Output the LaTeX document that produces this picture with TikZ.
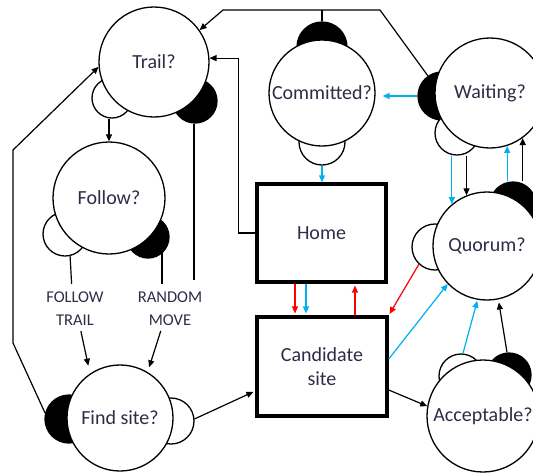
\documentclass[tikz,border=0pt]{standalone}
\usepackage{fontspec}
\setmainfont{Carlito}
\usetikzlibrary{arrows.meta,calc}
\definecolor{tx}{RGB}{45,45,70}
\definecolor{cyanb}{RGB}{0,176,240}
\definecolor{redr}{RGB}{255,0,0}
\begin{document}
\begin{tikzpicture}[x=1pt,y=-1pt,
  big/.style={circle,draw,fill=white,line width=1.3pt,inner sep=0pt,minimum size=#1pt,font=\fontsize{20}{24}\selectfont,text=tx},
  dotw/.style={circle,draw,fill=white,line width=1.3pt,inner sep=0pt,minimum size=#1pt},
  dotb/.style={circle,draw,fill=black,line width=1.3pt,inner sep=0pt,minimum size=#1pt},
  box/.style={rectangle,draw,fill=white,line width=3.5pt,inner sep=0pt,font=\fontsize{20}{24}\selectfont,text=tx,align=center},
  conn/.style={line width=1.2pt},
  arr/.style={conn,-{Triangle[length=7pt,width=6pt]}},
  barr/.style={arr,draw=cyanb,fill=cyanb},
  rarr/.style={arr,draw=redr,fill=redr},
  lab/.style={font=\fontsize{16.5}{23}\selectfont,text=tx,align=center,inner sep=1pt}]
\useasboundingbox (0,0) rectangle (533,472);
% small circles (behind)
\node[dotw=40] (trailW) at (112,98) {};
\node[dotb=44] (trailB) at (195,101) {};
\node[dotb=50] (comB) at (322,47) {};
\node[dotw=46] (comW) at (322,142) {};
\node[dotb=48] (waitB) at (442,96) {};
\node[dotw=44] (waitW) at (457,133) {};
\node[dotw=46] (quoW) at (435,247) {};
\node[dotb=46] (quoB) at (513,205) {};
\node[dotw=44] (accW) at (461,376) {};
\node[dotb=44] (accB) at (509,375) {};
\node[dotw=44] (folW) at (65,234) {};
\node[dotb=42] (folB) at (148,237) {};
\node[dotb=48] (finB) at (69,419) {};
\node[dotw=46] (finW) at (171,421) {};
% big circles
\node[big=110] (trail) at (154,62) {Trail?};
\node[big=106] (committed) at (322,93) {Committed?};
\node[big=110] (waiting) at (490,93) {Waiting?};
\node[big=108] (quorum) at (487,246) {Quorum?};
\node[big=112] (acceptable) at (483,416) {Acceptable?};
\node[big=112] (follow) at (109,198) {Follow?};
\node[big=106] (find) at (120,418) {Find site?};
% boxes
\node[box,minimum width=129pt,minimum height=98pt] (home) at (321.5,233) {Home};
\node[box,minimum width=130pt,minimum height=99pt] (cand) at (322,366.5) {Candidate\\site};
% labels
\node[lab] (ft) at (75,309) {FOLLOW\\TRAIL};
\node[lab] (rm) at (170,309) {RANDOM\\MOVE};
\coordinate (trailEnd) at (194,280);
% connectors
\draw[arr] (trailW.south -| follow.north) -- (follow.north);
\draw[conn] (trailB.south -| trailEnd) -- (trailEnd);
\draw[arr] (home.west) -- ++(-17,0) |- (trail.4);
\draw[arr] (waitB.125) -- (380,10) -- (223,10) -- (trail.35);
\draw[conn] (comB.north) -- (comB.north |- 0,10);
\draw[barr] (comW.south) -- (comW.south |- home.north);
\draw[barr,shorten >=7pt] (waitB.west) -- (committed.east |- waitB.west);
\draw[barr] (quorum.130 |- waitW.south) -- (quorum.130);
\draw[arr] (quorum.112 |- waitW.south) -- (quorum.112);
\draw[barr] (waiting.-72 |- quoB.north) -- (waiting.-72);
\draw[arr] (waiting.-54 |- quoB.north) -- (waiting.-54);
\draw[rarr,shorten >=1.5pt] (quoW.227) -- (cand.north east);
\draw[barr] ([yshift=7.5pt]cand.east) -- (quorum.224);
\draw[barr,shorten >=1pt] (accW.85) -- (quorum.260);
\draw[arr,shorten >=3pt] (accB.95) -- (quorum.-78);
\draw[rarr,shorten >=1.8pt] ([xshift=-26.5pt]home.south) -- ([xshift=-26.5pt]home.south |- cand.north);
\draw[barr,shorten >=1.8pt] ([xshift=-15.5pt]home.south) -- ([xshift=-15.5pt]home.south |- cand.north);
\draw[rarr,shorten >=1.8pt] ([xshift=33pt]cand.north) -- ([xshift=33pt]cand.north |- home.south);
\draw[arr] ([yshift=-23.5pt]cand.east) -- (acceptable.170);
\draw[arr,shorten >=2pt] (finW.5) -- ([yshift=-24.5pt]cand.west);
\draw[arr,shorten <=4pt,shorten >=8pt] ([xshift=5pt]ft.south) -- (find.124);
\draw[arr,shorten <=4pt,shorten >=5pt] ([xshift=-8pt]rm.south) -- (find.59);
\draw[conn,shorten >=7pt] (folW.-77) -- ([xshift=-3pt]ft.north);
\draw[conn,shorten >=7pt] (folB.-48 -| rm.north) ++(-8,0) -- ([xshift=-8pt]rm.north);
\draw[arr] (finB.166) -- (13,343) -- (13,150) -- (trail.185);
\end{tikzpicture}
\end{document}
